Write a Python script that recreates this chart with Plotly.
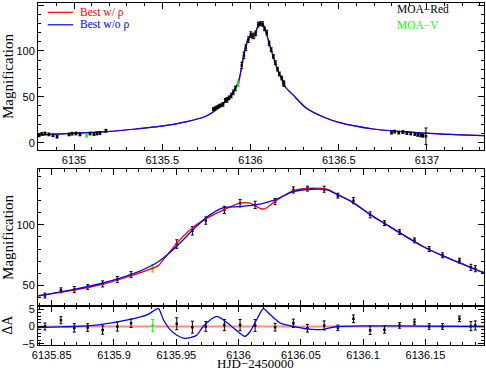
import plotly.graph_objects as go

# ---------------- data ----------------
# core data (MOA-Red, one MOA-V point) shown in all panels
core_t = [6135.8446, 6135.8574, 6135.8681, 6135.8789, 6135.8909, 6135.9027, 6135.9137, 6135.9311,
          6135.9504, 6135.9629, 6135.9737, 6135.9886, 6136.0012, 6136.0133, 6136.0293, 6136.0440,
          6136.0553, 6136.0687, 6136.0797, 6136.0922, 6136.1056, 6136.1171, 6136.1292, 6136.1412,
          6136.1530, 6136.1637, 6136.1773, 6136.1865, 6136.1900]
core_mag = [41.8, 46.1, 46.7, 48.9, 51.4, 54.9, 59.0, 64.2, 84.2, 95.1, 103.5, 112.3, 117.8, 116.4,
            119.1, 128.7, 129.8, 129.3, 124.0, 119.9, 108.2, 101.4, 94.0, 87.2, 80.1, 74.9, 70.5,
            65.0, 63.9]
core_mag_err = [2.0, 2.0, 2.5, 2.0, 2.5, 2.5, 2.5, 3.0, 3.5, 3.5, 3.0, 3.0, 3.0, 3.0, 2.5, 2.5,
                2.0, 2.5, 2.0, 2.5, 2.5, 2.0, 2.0, 2.0, 2.0, 2.0, 2.0, 2.5, 2.5]
core_res = [0.0, 1.8, -0.4, -0.3, -1.0, 0.0, 0.9, 0.3, 0.8, -0.2, 0.0, 0.4, 0.4, 0.3, -0.2, 0.9,
            -0.5, 0.3, -0.4, 2.2, -1.1, -0.9, 0.3, 1.3, 0.0, 0.0, 2.2, 0.1, 0.3]
core_res_err = [1.0, 1.0, 1.2, 1.1, 1.2, 1.3, 1.2, 1.7, 1.7, 1.7, 1.4, 1.6, 1.6, 1.7, 1.1, 1.2,
                1.1, 1.3, 0.8, 1.1, 1.2, 1.0, 0.8, 0.8, 0.8, 0.8, 0.8, 1.3, 1.3]
core_obs = ["Red"] * 7 + ["V"] + ["Red"] * 21

# wing data (top panel only)
wing_t = [6134.802, 6134.819, 6134.836, 6134.858, 6134.881, 6134.904, 6134.972, 6134.989,
          6135.011, 6135.034, 6135.072, 6135.091, 6135.113, 6135.130, 6135.147, 6135.181,
          6135.790, 6135.800, 6135.810, 6135.818, 6135.826, 6135.834,
          6136.799, 6136.817, 6136.840, 6136.863, 6136.886, 6136.908, 6136.931, 6136.948,
          6136.965, 6136.977, 6136.994]
wing_mag = [8.0, 9.5, 10.0, 9.0, 8.0, 6.5, 9.0, 9.8, 10.0, 9.0, 7.6, 10.0, 9.5, 10.0, 10.5, 13.0,
            36.5, 37.5, 38.5, 39.3, 40.2, 40.8,
            10.9, 12.0, 11.0, 11.5, 10.5, 10.0, 9.5, 8.5, 8.0, 7.5, 7.0]
wing_err = [1.5, 1.5, 1.5, 1.5, 1.5, 1.5, 1.5, 1.5, 1.5, 1.5, 1.5, 1.5, 1.5, 1.5, 1.5, 1.5,
            1.5, 1.5, 1.5, 1.5, 1.5, 1.5,
            1.5, 1.5, 1.5, 1.5, 1.5, 1.5, 1.5, 1.5, 1.5, 1.5, 9.0]
wing_obs = ["Red"] * 10 + ["V"] + ["Red"] * 22

# model curves
blue_t = [6134.796, 6135.000, 6135.185, 6135.336, 6135.506, 6135.640, 6135.750, 6135.800,
          6135.839, 6135.867, 6135.889, 6135.915, 6135.934, 6135.943, 6135.953, 6135.966,
          6135.977, 6135.988, 6136.001, 6136.017, 6136.029, 6136.044, 6136.060, 6136.071,
          6136.080, 6136.092, 6136.106, 6136.119, 6136.132, 6136.148, 6136.165, 6136.181,
          6136.198, 6136.241, 6136.317, 6136.410, 6136.506, 6136.695, 6136.880, 6137.070,
          6137.323]
blue_mag = [8.4, 10.2, 12.0, 14.6, 18.2, 22.9, 29.0, 35.0,
            41.5, 46.7, 51.5, 59.6, 68.6, 75.5, 85.0, 98.6,
            108.2, 114.2, 115.0, 117.0, 120.5, 127.3, 129.3, 128.7,
            124.6, 118.3, 108.2, 100.0, 91.8, 82.2, 74.0, 67.2,
            60.4, 52.0, 37.5, 28.3, 21.8, 14.9, 11.7, 9.5,
            7.6]
red_t = [6134.796, 6135.000, 6135.185, 6135.336, 6135.506, 6135.640, 6135.750, 6135.800,
         6135.839, 6135.867, 6135.889, 6135.915, 6135.9356, 6135.9396, 6135.953, 6135.966,
         6135.977, 6135.988, 6136.001, 6136.009, 6136.0199, 6136.029, 6136.044, 6136.060,
         6136.071, 6136.080, 6136.092, 6136.106, 6136.119, 6136.132, 6136.148, 6136.165,
         6136.181, 6136.198, 6136.241, 6136.317, 6136.410, 6136.506, 6136.695, 6136.880,
         6137.070, 6137.323]
red_mag = [8.4, 10.2, 12.0, 14.6, 18.2, 22.9, 29.0, 35.0,
           41.5, 46.0, 50.5, 58.5, 66.4, 71.3, 87.7, 100.0,
           106.8, 112.3, 117.8, 117.8, 112.9, 119.1, 128.1, 130.1,
           129.3, 124.6, 118.3, 108.2, 100.0, 91.8, 82.2, 74.0,
           67.2, 60.4, 52.0, 37.5, 28.3, 21.8, 14.9, 11.7,
           9.5, 7.6]

# residual curves (relative to the "w/ rho" model)
res_blue_t = [6135.839, 6135.857, 6135.868, 6135.886, 6135.913, 6135.927, 6135.9356, 6135.9396,
              6135.945, 6135.9505, 6135.957, 6135.9664, 6135.9715, 6135.9825, 6135.9945,
              6136.0052, 6136.0092, 6136.0146, 6136.0199, 6136.0253, 6136.0333, 6136.044,
              6136.0547, 6136.068, 6136.0789, 6136.1056, 6136.1458, 6136.197]
res_blue = [-0.3, -0.1, 0.0, 0.4, 2.0, 3.4, 5.1, 2.0,
            -0.9, -2.5, -3.4, -2.5, 0.0, 2.9, 0.0,
            -2.8, -1.5, 2.0, 5.1, 3.4, 1.0, 0.0,
            -0.7, -0.8, 0.0, 0.2, 0.1, 0.0]
res_red_t = [6135.80, 6136.22]
res_red = [0.0, 0.0]

top_xrange = [6134.796, 6137.323]
top_yrange = [-8.0, 152.2]
zoom_xrange = [6135.839, 6136.197]
mid_yrange = [33.6, 145.7]
res_yrange = [-5.29, 6.0]

legend_labels = ["Best w/ \u03c1", "Best w/o \u03c1"]
obs_labels = ["MOA\u2212Red", "MOA\u2212V"]
xtitle = "HJD\u22122450000"
ytitle = "Magnification"
rtitle = "\u0394A"

RED = "#ff0000"
BLUE = "#0000ff"
GREEN = "#22ee22"
OBS_COL = {"Red": "black", "V": GREEN}

fig = go.Figure()


def add_data(t, m, e, obs, xa, ya):
    for key in ["Red", "V"]:
        idx = [i for i, o in enumerate(obs) if o == key]
        if not idx:
            continue
        fig.add_trace(go.Scatter(
            x=[t[i] for i in idx], y=[m[i] for i in idx],
            error_y=dict(type="data", array=[e[i] for i in idx], color=OBS_COL[key],
                         thickness=1, width=1.5),
            mode="markers", marker=dict(size=2.5, color=OBS_COL[key], symbol="square"),
            xaxis=xa, yaxis=ya, showlegend=False, hoverinfo="skip"))


line_kw = dict(mode="lines", showlegend=False, hoverinfo="skip")

# top panel
fig.add_trace(go.Scatter(x=red_t, y=red_mag, line=dict(color=RED, width=1.2, shape="spline", smoothing=0.7),
                         xaxis="x", yaxis="y", **line_kw))
fig.add_trace(go.Scatter(x=blue_t, y=blue_mag, line=dict(color=BLUE, width=1.2, shape="spline", smoothing=0.7),
                         xaxis="x", yaxis="y", **line_kw))
add_data(wing_t + core_t, wing_mag + core_mag, wing_err + core_mag_err, wing_obs + core_obs, "x", "y")

# middle panel
add_data(core_t, core_mag, core_mag_err, core_obs, "x2", "y2")
fig.add_trace(go.Scatter(x=red_t, y=red_mag, line=dict(color=RED, width=1.3, shape="spline", smoothing=0.7),
                         xaxis="x2", yaxis="y2", **line_kw))
fig.add_trace(go.Scatter(x=blue_t, y=blue_mag, line=dict(color=BLUE, width=1.3, shape="spline", smoothing=0.7),
                         xaxis="x2", yaxis="y2", **line_kw))

# residual panel
fig.add_trace(go.Scatter(x=res_red_t, y=res_red, line=dict(color="rgba(255,60,60,0.6)", width=2.2),
                         xaxis="x3", yaxis="y3", **line_kw))
add_data(core_t, core_res, core_res_err, core_obs, "x3", "y3")
fig.add_trace(go.Scatter(x=res_blue_t, y=res_blue, line=dict(color=BLUE, width=1.3, shape="spline", smoothing=0.7),
                         xaxis="x3", yaxis="y3", **line_kw))

TICKFONT = dict(family="Liberation Sans, Arial, sans-serif", size=11, color="black")
TITLEFONT = dict(family="Liberation Serif, Times New Roman, serif", size=15, color="black")

axis_common = dict(showline=True, linecolor="black", linewidth=1, mirror="allticks",
                   ticks="inside", ticklen=6, tickcolor="black", tickwidth=1,
                   showgrid=False, zeroline=False, tickfont=TICKFONT, automargin=False,
                   tickformat=".7~g")

H = 370
MT, MB = 3, 25
PH = H - MT - MB


def dom(py_top, py_bot):
    return [(H - MB - py_bot) / PH, (H - MB - py_top) / PH]


fig.update_layout(
    width=486, height=370,
    margin=dict(l=38, r=2, t=MT, b=MB),
    paper_bgcolor="white", plot_bgcolor="white",
    xaxis=dict(domain=[0, 1], anchor="y", range=top_xrange, dtick=0.5,
               minor=dict(ticks="inside", ticklen=3, dtick=0.1, tickcolor="black"), **axis_common),
    yaxis=dict(domain=dom(3, 150), anchor="x", range=top_yrange, dtick=50,
               minor=dict(ticks="inside", ticklen=3, dtick=10, tickcolor="black"),
               title=dict(text=ytitle, font=TITLEFONT, standoff=9), **axis_common),
    xaxis2=dict(domain=[0, 1], anchor="y2", range=zoom_xrange, dtick=0.05, showticklabels=False,
                minor=dict(ticks="inside", ticklen=3, dtick=0.01, tickcolor="black"), **axis_common),
    yaxis2=dict(domain=dom(169.3, 305.5), anchor="x2", range=mid_yrange, dtick=50,
                minor=dict(ticks="inside", ticklen=3, dtick=10, tickcolor="black"),
                title=dict(text=ytitle, font=TITLEFONT, standoff=9), **axis_common),
    xaxis3=dict(domain=[0, 1], anchor="y3", range=zoom_xrange, dtick=0.05,
                minor=dict(ticks="inside", ticklen=3, dtick=0.01, tickcolor="black"), **axis_common),
    yaxis3=dict(domain=dom(305.5, 345), anchor="x3", range=res_yrange, dtick=5,
                minor=dict(ticks="inside", ticklen=3, dtick=1, tickcolor="black"),
                title=dict(text=rtitle, font=dict(TITLEFONT, size=14), standoff=13), **axis_common),
)


def px2paper(px, py):
    return (px - 38) / 446, (H - MB - py) / PH


# x title as annotation
xt, yt = px2paper(255, 363.0)
fig.add_annotation(xref="paper", yref="paper", x=xt, y=yt, text=xtitle, showarrow=False,
                   xanchor="center", yanchor="middle", borderpad=0,
                   font=dict(TITLEFONT, size=13))

# legend (drawn as annotations + sample lines)
for (py, col, lab) in [(12.3, RED, legend_labels[0]), (24.8, BLUE, legend_labels[1])]:
    x0, y0 = px2paper(47.7, py)
    x1, _ = px2paper(73.3, py)
    fig.add_shape(type="line", xref="paper", yref="paper", x0=x0, x1=x1, y0=y0, y1=y0,
                  line=dict(color=col, width=1.2))
    tx, _ = px2paper(79, py)
    fig.add_annotation(xref="paper", yref="paper", x=tx, y=y0, text=lab, showarrow=False,
                       xanchor="left", yanchor="middle", borderpad=0,
                       font=dict(family="Liberation Serif, serif", size=11.5, color=col))
for (py, col, lab) in [(9.5, "black", obs_labels[0]), (24.5, GREEN, obs_labels[1])]:
    tx, ty = px2paper(396, py)
    fig.add_annotation(xref="paper", yref="paper", x=tx, y=ty, text=lab, showarrow=False,
                       xanchor="left", yanchor="middle", borderpad=0,
                       font=dict(family="Liberation Serif, serif", size=11.5, color=col))

fig.write_html("out.html", config={"displayModeBar": False},
               post_script="document.body.style.margin='0px';document.body.style.overflow='hidden';")
